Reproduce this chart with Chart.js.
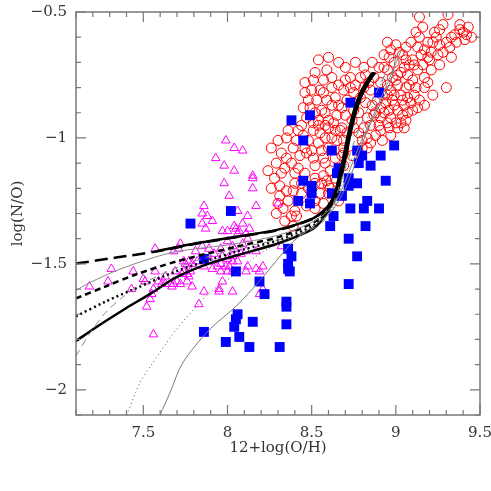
<!DOCTYPE html>
<html>
<head>
<meta charset="utf-8">
<script src="https://cdn.jsdelivr.net/npm/chart.js@4"></script>
<style>
  html, body { margin: 0; padding: 0; background: #fff; }
  canvas { display: block; }
</style>
</head>
<body>
<canvas id="chart" width="491" height="491"></canvas>
<script>
// axes
const xTickValues = [7.5, 8, 8.5, 9, 9.5];
const yTickValues = [-2, -1.5, -1, -0.5];

// red open circles  [12+log(O/H), log(N/O)]
const redCircles = [
  [9.14,-0.52],[9.31,-0.51],[9.16,-0.56],[9.28,-0.55],[9.38,-0.55],[9.35,-0.59],[9.38,-0.57],[9.42,-0.59],
  [9.41,-0.61],[9.23,-0.58],[9.26,-0.57],[9.24,-0.60],[9.12,-0.58],[9.14,-0.60],[9.09,-0.62],[9.19,-0.62],
  [9.30,-0.62],[9.26,-0.63],[9.32,-0.64],[9.13,-0.64],[9.17,-0.65],[9.21,-0.66],[9.19,-0.68],[9.25,-0.67],
  [9.33,-0.68],[9.02,-0.66],[8.97,-0.65],[8.93,-0.67],[8.96,-0.68],[8.76,-0.70],[9.06,-0.69],[9.10,-0.69],
  [9.08,-0.71],[9.05,-0.72],[9.11,-0.71],[9.16,-0.71],[9.21,-0.73],[8.99,-0.70],[8.93,-0.72],[8.95,-0.73],
  [9.03,-0.74],[9.01,-0.75],[9.07,-0.75],[9.10,-0.77],[8.98,-0.76],[8.82,-0.75],[8.87,-0.76],[9.19,-0.78],
  [9.30,-0.80],[8.70,-0.77],[8.73,-0.76],[8.76,-0.79],[8.81,-0.80],[8.85,-0.81],[9.06,-0.80],[9.12,-0.80],
  [9.01,-0.79],[8.97,-0.81],[8.95,-0.83],[8.99,-0.83],[9.03,-0.83],[9.07,-0.84],[9.11,-0.83],[9.14,-0.85],
  [9.05,-0.87],[9.10,-0.89],[9.13,-0.88],[8.99,-0.87],[8.94,-0.86],[8.89,-0.85],[8.86,-0.87],[8.91,-0.88],
  [8.96,-0.89],[9.01,-0.89],[9.04,-0.91],[8.97,-0.92],[8.91,-0.92],[8.87,-0.91],[8.83,-0.92],[8.69,-0.81],
  [8.71,-0.85],[8.68,-0.88],[8.70,-0.91],[8.85,-0.95],[8.90,-0.95],[8.95,-0.94],[9.00,-0.94],[9.03,-0.94],
  [8.96,-0.96],[8.81,-0.96],[8.78,-0.98],[8.83,-1.00],[8.85,-1.02],[8.68,-0.96],[8.71,-0.98],[8.69,-1.01],
  [8.80,-1.01],[8.69,-1.06],[8.59,-0.73],[8.54,-0.69],[8.55,-0.81],[8.48,-0.85],[8.53,-0.85],[8.59,-0.85],
  [8.64,-0.84],[8.62,-0.87],[8.66,-0.87],[8.75,-0.89],[8.56,-0.89],[8.58,-0.90],[8.52,-0.90],[8.54,-0.93],
  [8.60,-0.93],[8.63,-0.94],[8.67,-0.97],[8.75,-0.96],[8.64,-0.97],[8.60,-0.96],[8.54,-0.95],[8.51,-0.97],
  [8.42,-0.97],[8.36,-0.97],[8.35,-1.00],[8.41,-1.01],[8.30,-1.01],[8.26,-1.04],[8.32,-1.06],[8.35,-1.08],
  [8.46,-1.04],[8.47,-1.06],[8.54,-1.02],[8.56,-1.05],[8.51,-1.08],[8.52,-1.11],[8.58,-1.10],[8.64,-1.08],
  [8.68,-1.07],[8.69,-1.11],[8.42,-1.12],[8.46,-1.14],[8.40,-1.14],[8.32,-1.14],[8.28,-1.16],[8.52,-1.16],
  [8.57,-1.15],[8.56,-1.18],[8.60,-1.19],[8.35,-1.21],[8.39,-1.21],[8.44,-1.22],[8.55,-1.22],[8.60,-1.22],
  [8.52,-1.25],[8.30,-1.26],[8.36,-1.25],[8.57,-1.26],[8.46,-0.82],[8.50,-0.81],[8.50,-1.05],[8.59,-1.17],
  [8.52,-1.18],[8.40,-1.18],[8.33,-1.28],[8.29,-1.30],[8.40,-1.29],[8.41,-1.31],[8.52,-1.28],[8.69,-1.04],
  [8.75,-0.82],[8.84,-0.78],[8.91,-0.78],[8.95,-0.79],[9.00,-0.77],[9.26,-0.71],[9.04,-0.85],[8.98,-0.85],
  [9.01,-0.96],[8.91,-0.97],[8.83,-1.04],[8.39,-1.35],[8.66,-1.25],[8.61,-1.20],[8.45,-0.88],[8.57,-0.82],
  [8.62,-0.80],[8.65,-0.91],[8.58,-0.95],[8.62,-1.00],[8.55,-0.98],[8.47,-0.92],[8.44,-0.95],[8.92,-0.83],
  [9.07,-0.90],[8.93,-0.90],[9.08,-0.79],[9.17,-0.76],[9.05,-0.96],[8.88,-0.99],[8.80,-1.04],[8.74,-1.07],
  [9.20,-0.69],[9.28,-0.66],[9.36,-0.62],[9.40,-0.58],[9.33,-0.60],[9.45,-0.60],[9.43,-0.56],[9.22,-0.62],
  [9.06,-0.64],[9.00,-0.63],[8.95,-0.62],[9.04,-0.67],[9.15,-0.67],[9.13,-0.73],[9.17,-0.80],[9.22,-0.83],
  [9.09,-0.86],[9.17,-0.87],[9.06,-0.93],[8.97,-0.99],[8.92,-1.01],[8.88,-0.90],[8.82,-0.86],[8.79,-0.84],
  [8.78,-0.90],[8.74,-0.93],[8.73,-0.80],[8.79,-0.76],[8.90,-0.72],[8.86,-0.70],[8.81,-0.72],[8.62,-0.76],
  [8.66,-0.79],[8.57,-0.77],[8.51,-0.77],[8.49,-0.88],[8.51,-0.94],[8.45,-0.99],[8.48,-1.01],[8.39,-1.04],
  [8.43,-1.07],[8.38,-1.10],[8.34,-1.12],[8.29,-1.10],[8.24,-1.13],[8.26,-1.20],[8.31,-1.19],[8.44,-1.18],
  [8.48,-1.20],[8.47,-1.27],[8.38,-1.31],[8.34,-1.33],[8.31,-1.23],[8.57,-1.08],[8.61,-1.13],[8.64,-1.16],
  [8.60,-1.04],[8.65,-1.01],[8.58,-1.00],[8.70,-0.72],[8.66,-0.70],[8.60,-0.68],[8.52,-0.74],[8.46,-0.78]
];

// blue filled squares
const blueSquares = [
  [8.36,-1.44],[8.38,-1.47],[8.36,-1.50],[8.36,-1.52],[8.37,-1.53],[8.19,-1.57],[8.22,-1.62],[8.35,-1.65],
  [8.35,-1.67],[8.06,-1.70],[8.05,-1.72],[8.04,-1.75],[8.15,-1.73],[8.35,-1.74],[7.86,-1.77],[8.07,-1.79],
  [7.99,-1.81],[8.13,-1.83],[8.31,-1.83],[8.05,-1.53],[7.86,-1.48],[8.72,-1.40],[8.77,-1.47],[8.72,-1.58],
  [8.02,-1.29],[7.78,-1.34],[8.73,-0.86],[8.49,-0.91],[8.38,-0.93],[8.45,-1.01],[8.62,-1.05],[8.77,-1.05],
  [8.99,-1.03],[8.80,-1.07],[8.78,-1.10],[8.85,-1.11],[8.91,-1.07],[8.66,-1.12],[8.65,-1.14],[8.72,-1.16],
  [8.72,-1.19],[8.77,-1.18],[8.94,-1.17],[8.45,-1.17],[8.50,-1.19],[8.50,-1.22],[8.62,-1.22],[8.68,-1.23],
  [8.42,-1.25],[8.49,-1.26],[8.83,-1.25],[8.73,-1.28],[8.81,-1.28],[8.90,-1.28],[8.63,-1.31],[8.61,-1.35],
  [8.82,-1.35],[8.90,-0.82]
];

// magenta open triangles
const magentaTriangles = [
  [7.99,-1.01],[8.04,-1.04],[8.09,-1.05],[7.93,-1.08],[7.98,-1.11],[8.04,-1.13],[8.15,-1.15],[8.15,-1.16],
  [7.98,-1.18],[8.15,-1.20],[8.01,-1.23],[7.86,-1.27],[8.06,-1.29],[8.17,-1.27],[7.85,-1.30],[7.88,-1.31],
  [8.12,-1.31],[7.91,-1.33],[8.09,-1.34],[7.85,-1.34],[8.04,-1.35],[7.87,-1.36],[7.97,-1.37],[8.00,-1.37],
  [8.05,-1.36],[8.13,-1.36],[8.06,-1.38],[8.11,-1.38],[7.72,-1.42],[7.57,-1.44],[7.68,-1.45],[7.81,-1.45],
  [7.85,-1.43],[7.89,-1.44],[7.92,-1.46],[7.96,-1.44],[8.00,-1.41],[8.03,-1.43],[8.09,-1.42],[8.12,-1.40],
  [8.17,-1.45],[7.97,-1.47],[8.00,-1.48],[8.03,-1.47],[8.08,-1.46],[7.74,-1.49],[7.77,-1.49],[7.79,-1.50],
  [7.75,-1.50],[7.82,-1.49],[7.90,-1.49],[7.94,-1.51],[7.96,-1.50],[7.99,-1.51],[8.01,-1.51],[7.91,-1.52],
  [7.44,-1.53],[7.57,-1.53],[7.69,-1.53],[7.76,-1.54],[8.03,-1.53],[8.12,-1.51],[8.11,-1.53],[8.17,-1.52],
  [8.21,-1.51],[8.04,-1.44],[8.11,-1.45],[8.03,-1.49],[8.06,-1.49],[8.19,-1.53],[7.86,-1.51],[7.96,-1.53],
  [8.00,-1.53],[7.73,-1.54],[7.63,-1.55],[7.68,-1.58],[7.76,-1.57],[7.72,-1.58],[7.79,-1.59],[7.67,-1.59],
  [7.61,-1.58],[7.77,-1.55],[7.97,-1.57],[7.86,-1.61],[7.95,-1.60],[7.95,-1.61],[8.03,-1.61],[8.21,-1.60],
  [8.19,-1.62],[7.83,-1.66],[8.32,-1.43],[7.31,-1.52],[7.18,-1.59],[7.29,-1.57],[7.43,-1.60],[7.50,-1.56],
  [7.51,-1.57],[7.59,-1.57],[7.71,-1.44],[7.74,-1.53],[7.78,-1.53],[7.70,-1.57],[7.63,-1.58],[7.56,-1.60],
  [7.55,-1.62],[7.54,-1.64],[7.52,-1.67],[7.56,-1.78],[8.30,-1.26],[8.07,-1.37]
];

// model tracks (thick black)
const modelLongDash = [
  [7.10,-1.499],[7.338,-1.475],[7.575,-1.451],[7.813,-1.420],[8.051,-1.394],[8.312,-1.364],[8.508,-1.321],
  [8.561,-1.297],[8.597,-1.274],[8.623,-1.246],[8.647,-1.203],[8.664,-1.155],[8.682,-1.104],[8.700,-1.045],
  [8.718,-0.985],[8.736,-0.934],[8.759,-0.879],[8.795,-0.816],[8.843,-0.761],[8.866,-0.741]
];
const modelSolidUpper = [
  [7.575,-1.450],[7.813,-1.418],[8.051,-1.392],[8.312,-1.362],[8.508,-1.319],[8.559,-1.295],[8.595,-1.272],
  [8.621,-1.246],[8.645,-1.203],[8.662,-1.155],[8.680,-1.104],[8.698,-1.045],[8.716,-0.985],[8.734,-0.934],
  [8.757,-0.879],[8.793,-0.816],[8.841,-0.761],[8.864,-0.741]
];
const modelShortDash = [
  [7.10,-1.637],[7.278,-1.589],[7.456,-1.542],[7.694,-1.491],[8.051,-1.432],[8.312,-1.392],[8.508,-1.337],
  [8.561,-1.309],[8.597,-1.282],[8.627,-1.246],[8.651,-1.203],[8.668,-1.155],[8.686,-1.104],[8.704,-1.045],
  [8.722,-0.985],[8.740,-0.934],[8.763,-0.879],[8.799,-0.816],[8.847,-0.761],[8.870,-0.741]
];
const modelDotted = [
  [7.10,-1.708],[7.278,-1.649],[7.456,-1.597],[7.694,-1.530],[8.051,-1.451],[8.312,-1.404],[8.508,-1.349],
  [8.561,-1.317],[8.597,-1.286],[8.631,-1.246],[8.655,-1.203],[8.672,-1.155],[8.690,-1.104],[8.708,-1.045],
  [8.726,-0.985],[8.744,-0.934],[8.767,-0.879],[8.803,-0.816],[8.851,-0.761],[8.874,-0.741]
];
const modelSolidLower = [
  [7.10,-1.806],[7.249,-1.739],[7.397,-1.676],[7.546,-1.617],[7.694,-1.554],[7.872,-1.503],[8.051,-1.467],
  [8.312,-1.416],[8.508,-1.361],[8.561,-1.325],[8.597,-1.290],[8.635,-1.246],[8.659,-1.203],[8.676,-1.155],
  [8.694,-1.104],[8.712,-1.045],[8.730,-0.985],[8.748,-0.934],[8.771,-0.879],[8.807,-0.816],[8.855,-0.761],
  [8.878,-0.741]
];

// model tracks (thin grey)
const modelThinDash = [
  [7.10,-1.866],[7.183,-1.775],[7.272,-1.696],[7.361,-1.641],[7.498,-1.578],[7.718,-1.510],[8.051,-1.439],
  [8.431,-1.384],[8.579,-1.325],[8.639,-1.242],[8.698,-1.124],[8.758,-1.005],[8.817,-0.907],[8.876,-0.828],
  [8.936,-0.749]
];
const modelThinUpper = [
  [7.10,-1.605],[7.183,-1.574],[7.373,-1.518],[7.670,-1.455],[8.051,-1.420],[8.312,-1.384],[8.508,-1.333],
  [8.609,-1.282],[8.668,-1.222],[8.728,-1.124],[8.799,-1.005],[8.882,-0.887],[8.960,-0.768],[9.031,-0.654]
];
const modelThinDotted = [
  [7.401,-2.10],[7.480,-1.972],[7.556,-1.893],[7.694,-1.763],[7.890,-1.617],[8.051,-1.538],[8.193,-1.459],
  [8.371,-1.400],[8.520,-1.345],[8.609,-1.297],[8.660,-1.222],[8.715,-1.124],[8.770,-1.025],[8.840,-0.907],
  [8.900,-0.808],[8.950,-0.721]
];
const modelThinLower = [
  [7.599,-2.10],[7.658,-2.012],[7.734,-1.893],[7.890,-1.763],[8.051,-1.668],[8.193,-1.566],[8.389,-1.412],
  [8.520,-1.345],[8.621,-1.289],[8.698,-1.203],[8.758,-1.104],[8.829,-0.974],[8.906,-0.867],[8.977,-0.761],
  [9.000,-0.670]
];

const toXY = arr => arr.map(p => ({ x: p[0], y: p[1] }));

function track(data, color, width, dash) {
  return {
    data: toXY(data),
    showLine: true,
    borderColor: color,
    borderWidth: width,
    borderDash: dash,
    borderCapStyle: 'butt',
    tension: 0.3,
    pointRadius: 0,
    order: 1
  };
}

const labelFont = { family: 'DejaVu Serif', size: 15 };
const textColor = '#333';
const minus = v => (v < 0 ? '\u2212' : '') + Math.abs(v);

// PGPLOT-like frame with inward ticks on all four sides
const frameTicks = {
  id: 'frameTicks',
  afterDatasetsDraw(chart) {
    const { ctx, chartArea: a, scales: { x, y } } = chart;
    ctx.save();
    ctx.strokeStyle = '#777';
    ctx.lineWidth = 1.5;
    ctx.strokeRect(a.left, a.top, a.right - a.left, a.bottom - a.top);
    ctx.lineWidth = 1.2;
    ctx.beginPath();
    for (let i = 71; i <= 95; i++) {
      const px = x.getPixelForValue(i / 10);
      const len = i % 5 === 0 ? 10 : 5;
      ctx.moveTo(px, a.bottom); ctx.lineTo(px, a.bottom - len);
      ctx.moveTo(px, a.top); ctx.lineTo(px, a.top + len);
    }
    for (let i = -21; i <= -5; i++) {
      const py = y.getPixelForValue(i / 10);
      const len = i % 5 === 0 ? 10 : 5;
      ctx.moveTo(a.left, py); ctx.lineTo(a.left + len, py);
      ctx.moveTo(a.right, py); ctx.lineTo(a.right - len, py);
    }
    ctx.stroke();
    ctx.restore();
  }
};

new Chart(document.getElementById('chart'), {
  type: 'scatter',
  data: {
    datasets: [
      {
        data: toXY(redCircles),
        pointStyle: 'circle',
        pointRadius: 5,
        borderColor: '#ff0000',
        backgroundColor: 'rgba(0,0,0,0)',
        borderWidth: 1,
        order: 5
      },
      {
        data: toXY(magentaTriangles),
        pointStyle: 'triangle',
        pointRadius: 5,
        borderColor: '#ff00ff',
        backgroundColor: 'rgba(0,0,0,0)',
        borderWidth: 1,
        order: 4
      },
      {
        data: toXY(blueSquares),
        pointStyle: 'rect',
        pointRadius: 7,
        borderColor: '#0000ff',
        backgroundColor: '#0000ff',
        borderWidth: 0,
        order: 3
      },
      track(modelThinLower, '#777', 1, []),
      track(modelThinDotted, '#555', 1, [1, 3]),
      track(modelThinUpper, '#888', 1, []),
      track(modelThinDash, '#888', 1, [7, 5]),
      track(modelLongDash, '#000', 2.5, [13, 6]),
      track(modelSolidUpper, '#000', 2.5, []),
      track(modelShortDash, '#000', 2.5, [6, 4]),
      track(modelDotted, '#000', 2.5, [2, 3]),
      track(modelSolidLower, '#000', 2.5, [])
    ]
  },
  options: {
    responsive: false,
    animation: false,
    devicePixelRatio: 1,
    layout: { padding: { left: 0, right: 11, top: 12, bottom: 0 } },
    plugins: { legend: { display: false }, tooltip: { enabled: false } },
    scales: {
      x: {
        type: 'linear',
        min: 7.1,
        max: 9.5,
        grid: { display: false, drawTicks: false },
        border: { display: false },
        afterBuildTicks: s => { s.ticks = xTickValues.map(v => ({ value: v })); },
        afterFit: s => { s.height = 76; s.paddingLeft = 0; s.paddingRight = 0; },
        ticks: { font: labelFont, color: textColor, padding: 9, maxRotation: 0, autoSkip: false, callback: v => minus(v) },
        title: { display: true, text: '12+log(O/H)', font: labelFont, color: textColor, padding: { top: 0, bottom: 34 } }
      },
      y: {
        type: 'linear',
        min: -2.1,
        max: -0.5,
        grid: { display: false, drawTicks: false },
        border: { display: false },
        afterBuildTicks: s => { s.ticks = yTickValues.map(v => ({ value: v })); },
        afterFit: s => { s.width = 76; s.paddingTop = 0; s.paddingBottom = 0; },
        ticks: { font: labelFont, color: textColor, padding: 9, autoSkip: false, callback: v => minus(v) },
        title: { display: true, text: 'log(N/O)', font: labelFont, color: textColor, padding: { top: 9, bottom: 0 } }
      }
    }
  },
  plugins: [frameTicks]
});
</script>
</body>
</html>
